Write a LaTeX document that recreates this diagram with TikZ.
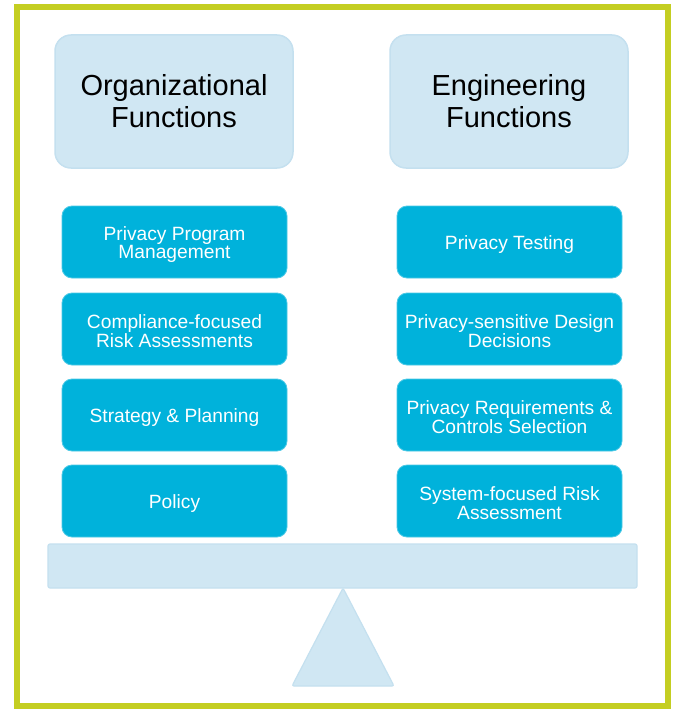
\documentclass[tikz,border=0pt]{standalone}
\usepackage{fontspec}
\setmainfont{Liberation Sans}
\definecolor{framegreen}{RGB}{196,206,34}
\definecolor{paleblue}{RGB}{208,231,243}
\definecolor{paleedge}{RGB}{196,224,239}
\definecolor{cyanbox}{RGB}{0,178,219}
\begin{document}
\begin{tikzpicture}[x=1pt,y=-1pt,
  header/.style={fill=paleblue,draw=paleedge,line width=1.5pt,rounded corners=16pt,
    minimum width=238pt,minimum height=133pt,align=center,inner sep=0pt,
    font=\fontsize{29}{32}\selectfont,text=black},
  item/.style={fill=cyanbox,draw=cyanbox!70!white,line width=0.8pt,rounded corners=10pt,
    minimum width=225pt,minimum height=72pt,inner sep=0pt,
    label={[itemtext]center:#1}},
  itemtext/.style={align=center,inner sep=0pt,yshift=-2.5pt,
    font=\fontsize{19.2}{18.8}\selectfont,text=white},
  pale/.style={fill=paleblue,draw=paleedge,line width=1.2pt}]
\useasboundingbox (0,0) rectangle (673,709);
\fill[white] (0,0) rectangle (673,709);
\draw[framegreen,line width=6.5pt] (17,7) rectangle (668,706);
\node[header] (org) at (174,101.5) {Organizational\\Functions};
\node[header] (eng) at (509,101.5) {Engineering\\Functions};
\node[item={Privacy Program\\Management}] (l1) at (174.5,242) {};
\node[item={Compliance-focused\\Risk Assessments}] (l2) at (174.5,329) {};
\node[item={Strategy \& Planning}] (l3) at (174.5,415) {};
\node[item={Policy}] (l4) at (174.5,501) {};
\node[item={Privacy Testing}] (r1) at (509.5,242) {};
\node[item={Privacy-sensitive Design\\Decisions}] (r2) at (509.5,329) {};
\node[item={Privacy Requirements \&\\Controls Selection}] (r3) at (509.5,415) {};
\node[item={System-focused Risk\\Assessment}] (r4) at (509.5,501) {};
\draw[pale,rounded corners=2pt] (48,544) rectangle (637,588);
\draw[pale,rounded corners=2pt] (343,588) -- (292,686) -- (394,686) -- cycle;
\end{tikzpicture}
\end{document}
